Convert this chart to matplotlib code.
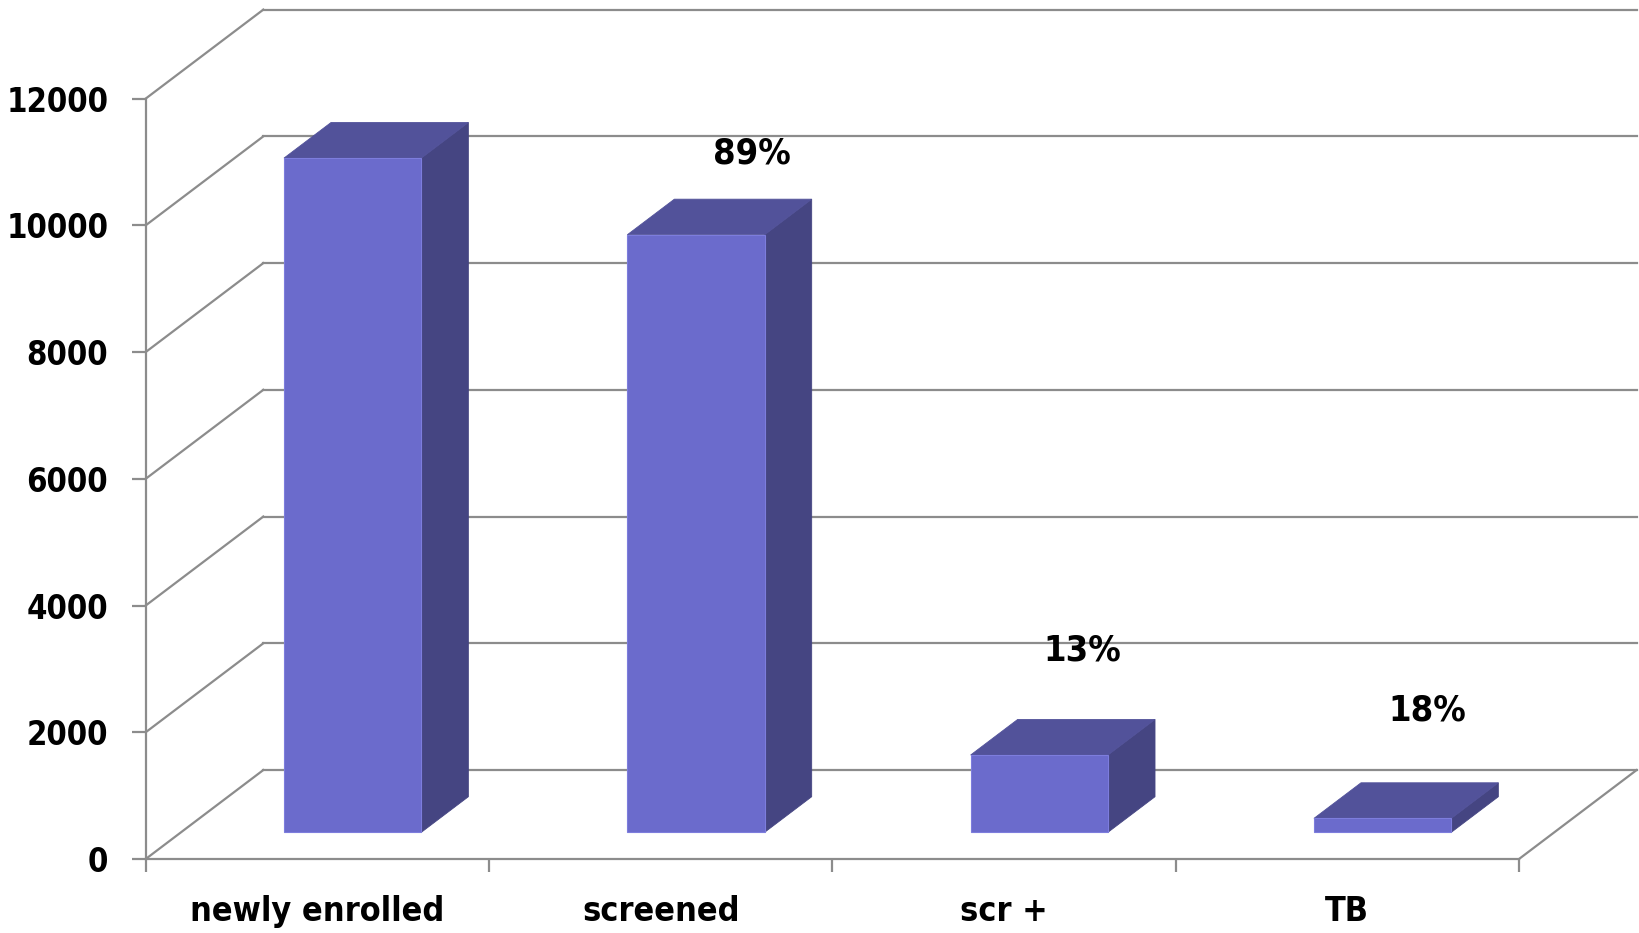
import matplotlib
matplotlib.use("Agg")
import matplotlib.pyplot as plt
from matplotlib import font_manager as fm
from matplotlib.patches import Polygon

categories = ["newly enrolled", "screened", "scr +", "TB"]
counts = [10640, 9430, 1220, 220]
y_ticks = [0, 2000, 4000, 6000, 8000, 10000, 12000]

# where each step-to-step percentage sits: (x shift from category centre, baseline value)
pct_label_pos = [(0.265, 10980), (0.227, 3140), (0.232, 2190)]

# oblique depth of the chart box, in category units (x) and value units (y)
DEPTH_X = 0.3426
DEPTH_Y = 1404
BAR_W = 0.4
BAR_D0, BAR_D1 = 0.3, 0.7

FRONT = '#6B6BCC'
TOP = '#52529A'
SIDE = '#454582'
EDGE = '#7D7DDD'
GRID = '#8C8C8C'


def pick_narrow_bold():
    # prefer a narrow / condensed bold face, else plain bold sans
    keys = ['sansnarrow-bold', 'sanscondensed-bold', 'condensed-bold', 'narrow-bold']
    files = [f.fname for f in fm.fontManager.ttflist]
    for k in keys:
        for p in files:
            base = p.replace('\\', '/').split('/')[-1].lower().replace(' ', '')
            if k in base and 'oblique' not in base and 'italic' not in base:
                return p
    return None


narrow_file = pick_narrow_bold()


def font(size):
    if narrow_file:
        return fm.FontProperties(fname=narrow_file, size=size)
    return fm.FontProperties(family=['Liberation Sans', 'DejaVu Sans'], weight='bold', size=size)


def proj(x, y, d):
    return (x + d * DEPTH_X, y + d * DEPTH_Y)


fig = plt.figure(figsize=(16.4, 9.33), dpi=100)
ax = fig.add_axes([0.08884, 0.07931, 0.83738, 0.81501])
ax.set_xlim(0, 4)
ax.set_ylim(0, 12000)

# back wall and left wall grid
for v in y_ticks:
    bx0, by0 = proj(0, v, 1)
    bx1, by1 = proj(4, v, 1)
    ax.plot([bx0, bx1], [by0, by1], color=GRID, lw=1.6, clip_on=False, zorder=1)
    ax.plot([0, bx0], [v, by0], color=GRID, lw=1.6, clip_on=False, zorder=1)

# right edge of the floor
fx, fy = proj(4, 0, 1)
ax.plot([4, fx], [0, fy], color=GRID, lw=1.6, clip_on=False, zorder=1)

for i, v in enumerate(counts):
    x0 = i + 0.5 - BAR_W / 2
    x1 = x0 + BAR_W
    front = [proj(x0, 0, BAR_D0), proj(x1, 0, BAR_D0), proj(x1, v, BAR_D0), proj(x0, v, BAR_D0)]
    side = [proj(x1, 0, BAR_D0), proj(x1, 0, BAR_D1), proj(x1, v, BAR_D1), proj(x1, v, BAR_D0)]
    top = [proj(x0, v, BAR_D0), proj(x1, v, BAR_D0), proj(x1, v, BAR_D1), proj(x0, v, BAR_D1)]
    ax.add_patch(Polygon(side, closed=True, facecolor=SIDE, edgecolor=SIDE, lw=0.6, clip_on=False, zorder=3))
    ax.add_patch(Polygon(top, closed=True, facecolor=TOP, edgecolor=TOP, lw=0.6, clip_on=False, zorder=3))
    ax.add_patch(Polygon(front, closed=True, facecolor=FRONT, edgecolor=EDGE, lw=0.8, clip_on=False, zorder=4))

# share of the previous step
for i in range(1, len(counts)):
    pct = round(100 * counts[i] / counts[i - 1])
    dx, yb = pct_label_pos[i - 1]
    ax.text(i + 0.5 + dx, yb, f"{pct}%", ha='center', va='baseline',
            fontproperties=font(26), zorder=5)

for s in ['top', 'right']:
    ax.spines[s].set_visible(False)
for s in ['left', 'bottom']:
    ax.spines[s].set_color(GRID)
    ax.spines[s].set_linewidth(1.6)
    ax.spines[s].set_zorder(2)

ax.set_yticks(y_ticks)
ax.set_yticklabels([str(t) for t in y_ticks], fontproperties=font(23.5))
ax.tick_params(axis='y', length=10, width=1.6, color=GRID, pad=17)

ax.set_xticks(range(5))
ax.set_xticklabels([])
ax.set_xticks([i + 0.5 for i in range(4)], minor=True)
ax.set_xticklabels(categories, minor=True, fontproperties=font(24.5))
ax.tick_params(axis='x', which='major', length=9, width=1.6, color=GRID)
ax.tick_params(axis='x', which='minor', length=0, pad=26)

fig.savefig("out.png", dpi=100)
